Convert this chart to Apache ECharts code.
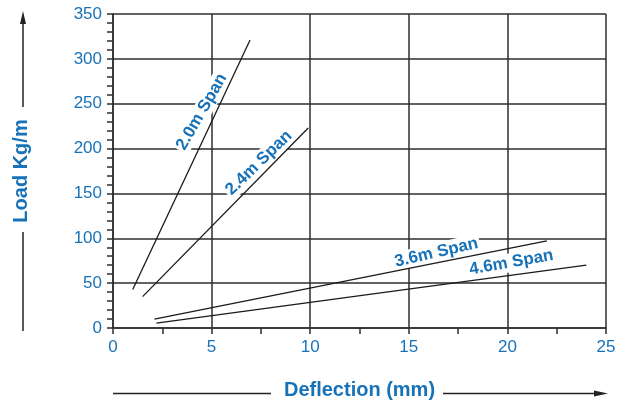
<!DOCTYPE html>
<html>
<head>
<meta charset="utf-8">
<script src="https://cdn.jsdelivr.net/npm/echarts@6/dist/echarts.min.js"></script>
<style>html,body{margin:0;padding:0;background:#fff;}#c{width:625px;height:405px;}</style>
</head>
<body>
<div id="c"></div>
<script>
// Data
const spanNames = ['2.0m Span', '2.4m Span', '3.6m Span', '4.6m Span'];
const span20 = [[1.0, 43], [6.95, 321]];
const span24 = [[1.5, 35], [9.9, 223]];
const span36 = [[2.1, 10], [22.0, 97]];
const span46 = [[2.2, 5.5], [24.0, 70]];
// Label anchor positions (data units) and angles
const labelX = [4.5, 7.4, 16.4, 20.2];
const labelY = [241, 184, 84, 73];
const labelAngle = [60, 44, 13, 10];
const xTicks = [0, 5, 10, 15, 20, 25];
const yTicks = [0, 50, 100, 150, 200, 250, 300, 350];

const BLUE = '#1872b8';
const GRID = '#2e2e2e';
const FONT = '"Liberation Sans", Arial, Helvetica, sans-serif';

const chart = echarts.init(document.getElementById('c'), null, {renderer: 'canvas'});

const lineSeries = [span20, span24, span36, span46].map((d, i) => ({
  name: spanNames[i],
  type: 'line',
  data: d,
  symbol: 'none',
  z: 5,
  lineStyle: {color: '#1a1a1a', width: 1.3},
  silent: true
}));

const labelSeries = {
  type: 'scatter',
  symbolSize: 0,
  z: 3,
  silent: true,
  itemStyle: {opacity: 1},
  data: spanNames.map((n, i) => ({
    value: [labelX[i], labelY[i]],
    name: n,
    label: {rotate: labelAngle[i]}
  })),
  label: {
    show: true,
    position: 'inside',
    formatter: p => p.name,
    color: BLUE,
    opacity: 1,
    fontFamily: FONT,
    fontWeight: 'bold',
    fontSize: 17,
    backgroundColor: '#fff',
    padding: [1, 2]
  }
};

chart.setOption({
  animation: false,
  backgroundColor: '#fff',
  grid: {left: 113, right: 19, top: 14, bottom: 73, containLabel: false},
  xAxis: {
    type: 'value',
    min: xTicks[0], max: xTicks[xTicks.length - 1], interval: 5,
    name: 'Deflection (mm)',
    nameLocation: 'middle',
    nameGap: 52,
    nameTextStyle: {color: BLUE, fontFamily: FONT, fontWeight: 'bold', fontSize: 20},
    axisLine: {show: true, lineStyle: {color: GRID, width: 1.5}},
    axisTick: {show: true, length: 6, lineStyle: {color: GRID, width: 1.5}},
    minorTick: {show: true, splitNumber: 2, length: 6, lineStyle: {color: GRID, width: 1.5}},
    axisLabel: {color: BLUE, fontFamily: FONT, fontSize: 17, margin: 11},
    splitLine: {show: true, lineStyle: {color: GRID, width: 1.5}}
  },
  yAxis: {
    type: 'value',
    min: yTicks[0], max: yTicks[yTicks.length - 1], interval: 50,
    name: 'Load Kg/m',
    nameLocation: 'middle',
    nameGap: 82,
    nameRotate: 90,
    nameTextStyle: {color: BLUE, fontFamily: FONT, fontWeight: 'bold', fontSize: 20},
    axisLine: {show: true, lineStyle: {color: GRID, width: 1.5}},
    axisTick: {show: true, length: 6, lineStyle: {color: GRID, width: 1.5}},
    minorTick: {show: true, splitNumber: 5, length: 6, lineStyle: {color: GRID, width: 1.5}},
    axisLabel: {color: BLUE, fontFamily: FONT, fontSize: 17, margin: 11},
    splitLine: {show: true, lineStyle: {color: GRID, width: 1.5}}
  },
  graphic: [
    {type: 'line', shape: {x1: 23, y1: 22, x2: 23, y2: 107}, style: {stroke: '#222', lineWidth: 1.5}},
    {type: 'polygon', shape: {points: [[23, 11], [20, 24], [26, 24]]}, style: {fill: '#222'}},
    {type: 'line', shape: {x1: 23, y1: 232, x2: 23, y2: 331}, style: {stroke: '#222', lineWidth: 1.5}},
    {type: 'line', shape: {x1: 113, y1: 393.5, x2: 271, y2: 393.5}, style: {stroke: '#222', lineWidth: 1.5}},
    {type: 'line', shape: {x1: 443, y1: 393.5, x2: 596, y2: 393.5}, style: {stroke: '#222', lineWidth: 1.5}},
    {type: 'polygon', shape: {points: [[608, 393.5], [594, 390.5], [594, 396.5]]}, style: {fill: '#222'}}
  ],
  series: lineSeries.concat([labelSeries])
});
</script>
</body>
</html>
